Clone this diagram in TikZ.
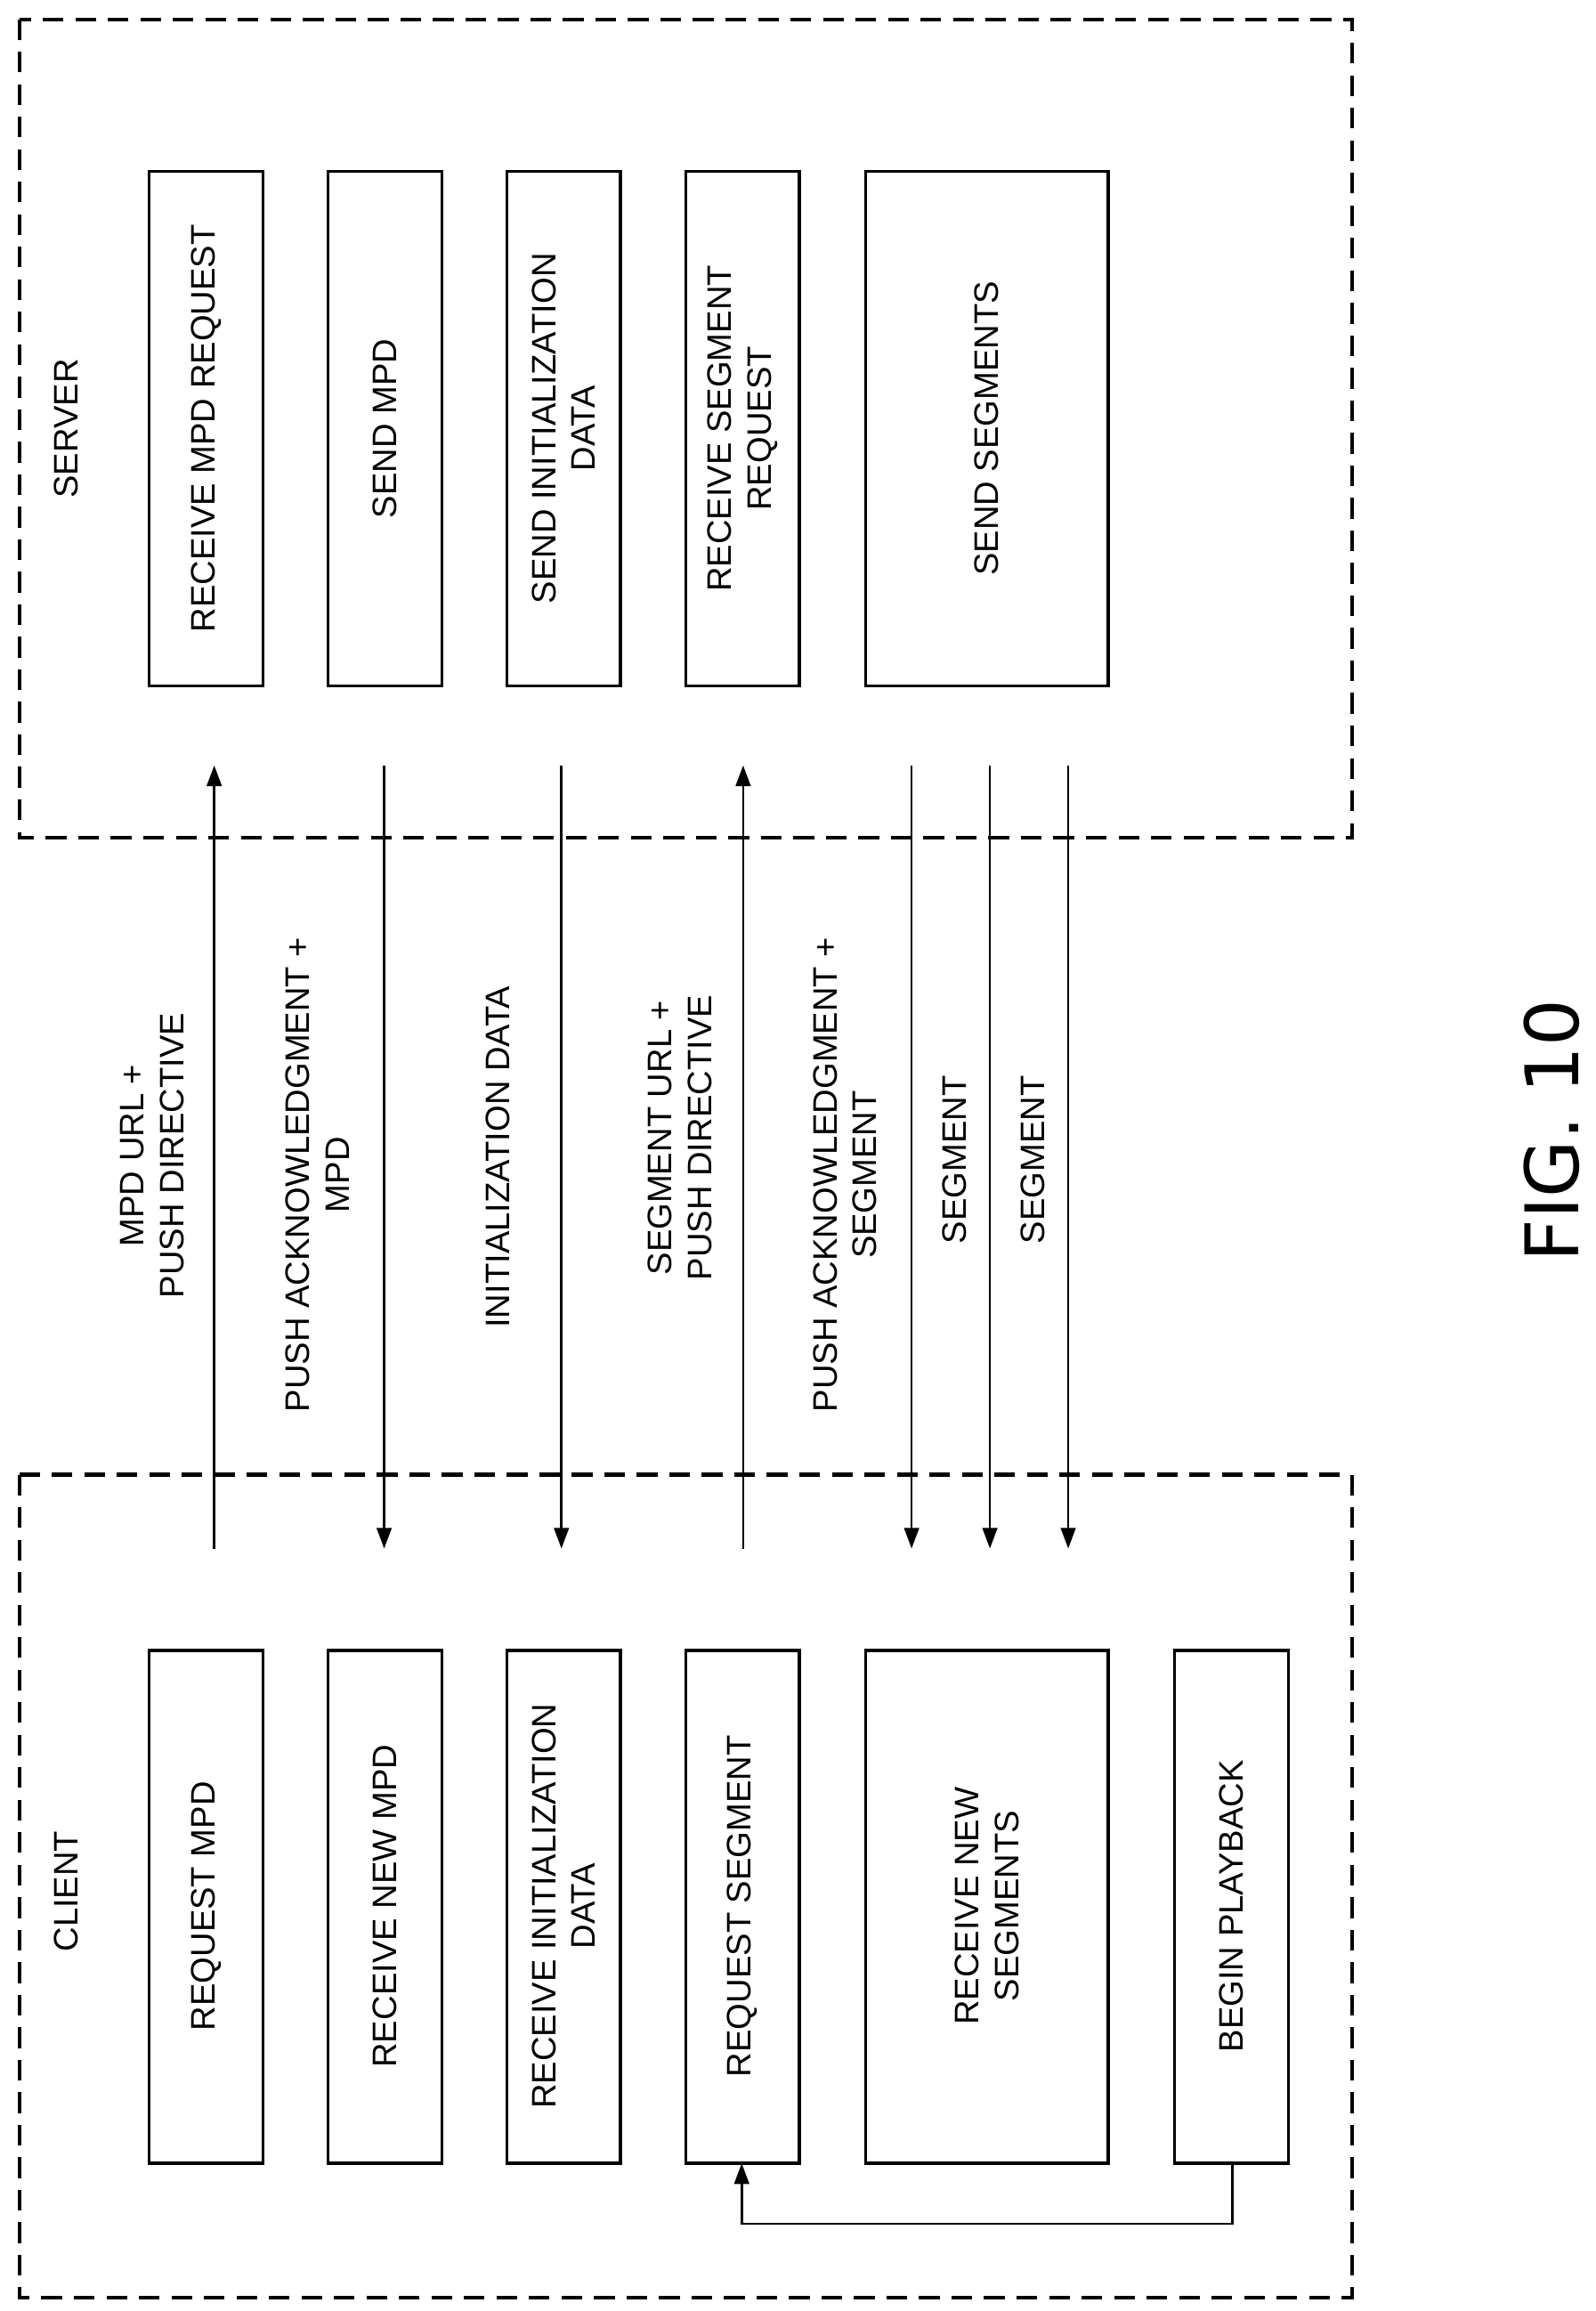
\documentclass[tikz,border=0pt]{standalone}
\usepackage{fontspec}
\setmainfont{Liberation Sans}
\newfontfamily\figfont{DejaVu Sans}
\usetikzlibrary{arrows.meta}
\begin{document}
\begin{tikzpicture}[x=1pt,y=-1pt,
  frame/.style={draw,line width=2.5pt,dash pattern=on 14pt off 8pt},
  blk/.style={draw,line width=2pt},
  lbl/.style={rotate=90,align=center,font=\fontsize{23}{27}\selectfont},
  conn/.style={line width=1.6pt,-{Triangle[length=14pt,width=10pt]}}]
\useasboundingbox (0,0) rectangle (1080,1564);
\draw[frame] (13,13) rectangle (915,567);
\draw[frame] (13,998) rectangle (915,1555);
\node[lbl] (srv) at (45,290) {SERVER};
\node[lbl] (cli) at (45,1280) {CLIENT};
% server boxes
\foreach \n/\a/\b/\t in {s1/101/178/RECEIVE MPD REQUEST, s2/222/299/SEND MPD, s3/343/420/{SEND INITIALIZATION\\DATA}, s4/464/541/{RECEIVE SEGMENT\\REQUEST}, s5/586/750/SEND SEGMENTS}{
  \draw[blk] (\a,116) rectangle (\b,464);
  \node[lbl] (\n) at ({(\a+\b)/2},290) {\t};
}
\foreach \n/\a/\b/\t in {c1/101/178/REQUEST MPD, c2/222/299/RECEIVE NEW MPD, c3/343/420/{RECEIVE INITIALIZATION\\DATA}, c4/464/541/REQUEST SEGMENT, c5/586/750/{RECEIVE NEW\\SEGMENTS}, c6/795/872/BEGIN PLAYBACK}{
  \draw[blk] (\a,1117) rectangle (\b,1464);
  \node[lbl] (\n) at ({(\a+\b)/2},1290) {\t};
}
\coordinate (pb) at (834,1464);
\coordinate (rs) at (502,1464);
\draw[conn] (pb) -- ++(0,41) -| (rs);
% messages
\coordinate (u1) at (145,518); \coordinate (d1) at (145,1048);
\draw[conn] (d1) -- (u1);
\node[lbl] (m1) at (103,782) {MPD URL +\\PUSH DIRECTIVE};
\coordinate (u2) at (260,518); \coordinate (d2) at (260,1048);
\draw[conn] (u2) -- (d2);
\node[lbl] (m2) at (215,795) {PUSH ACKNOWLEDGMENT +\\MPD};
\coordinate (u3) at (380,518); \coordinate (d3) at (380,1048);
\draw[conn] (u3) -- (d3);
\node[lbl] (m3) at (337,783) {INITIALIZATION DATA};
\coordinate (u4) at (503,518); \coordinate (d4) at (503,1048);
\draw[conn] (d4) -- (u4);
\node[lbl] (m4) at (460,770) {SEGMENT URL +\\PUSH DIRECTIVE};
\coordinate (u5) at (617,518); \coordinate (d5) at (617,1048);
\draw[conn] (u5) -- (d5);
\node[lbl] (m5) at (572,795) {PUSH ACKNOWLEDGMENT +\\SEGMENT};
\coordinate (u6) at (670,518); \coordinate (d6) at (670,1048);
\draw[conn] (u6) -- (d6);
\node[lbl] (m6) at (646,785) {SEGMENT};
\coordinate (u7) at (723,518); \coordinate (d7) at (723,1048);
\draw[conn] (u7) -- (d7);
\node[lbl] (m7) at (699,785) {SEGMENT};
\node[rotate=90,font=\figfont\fontsize{50}{56}\selectfont] (fig) at (1050,765) {FIG. 10};
\end{tikzpicture}
\end{document}
